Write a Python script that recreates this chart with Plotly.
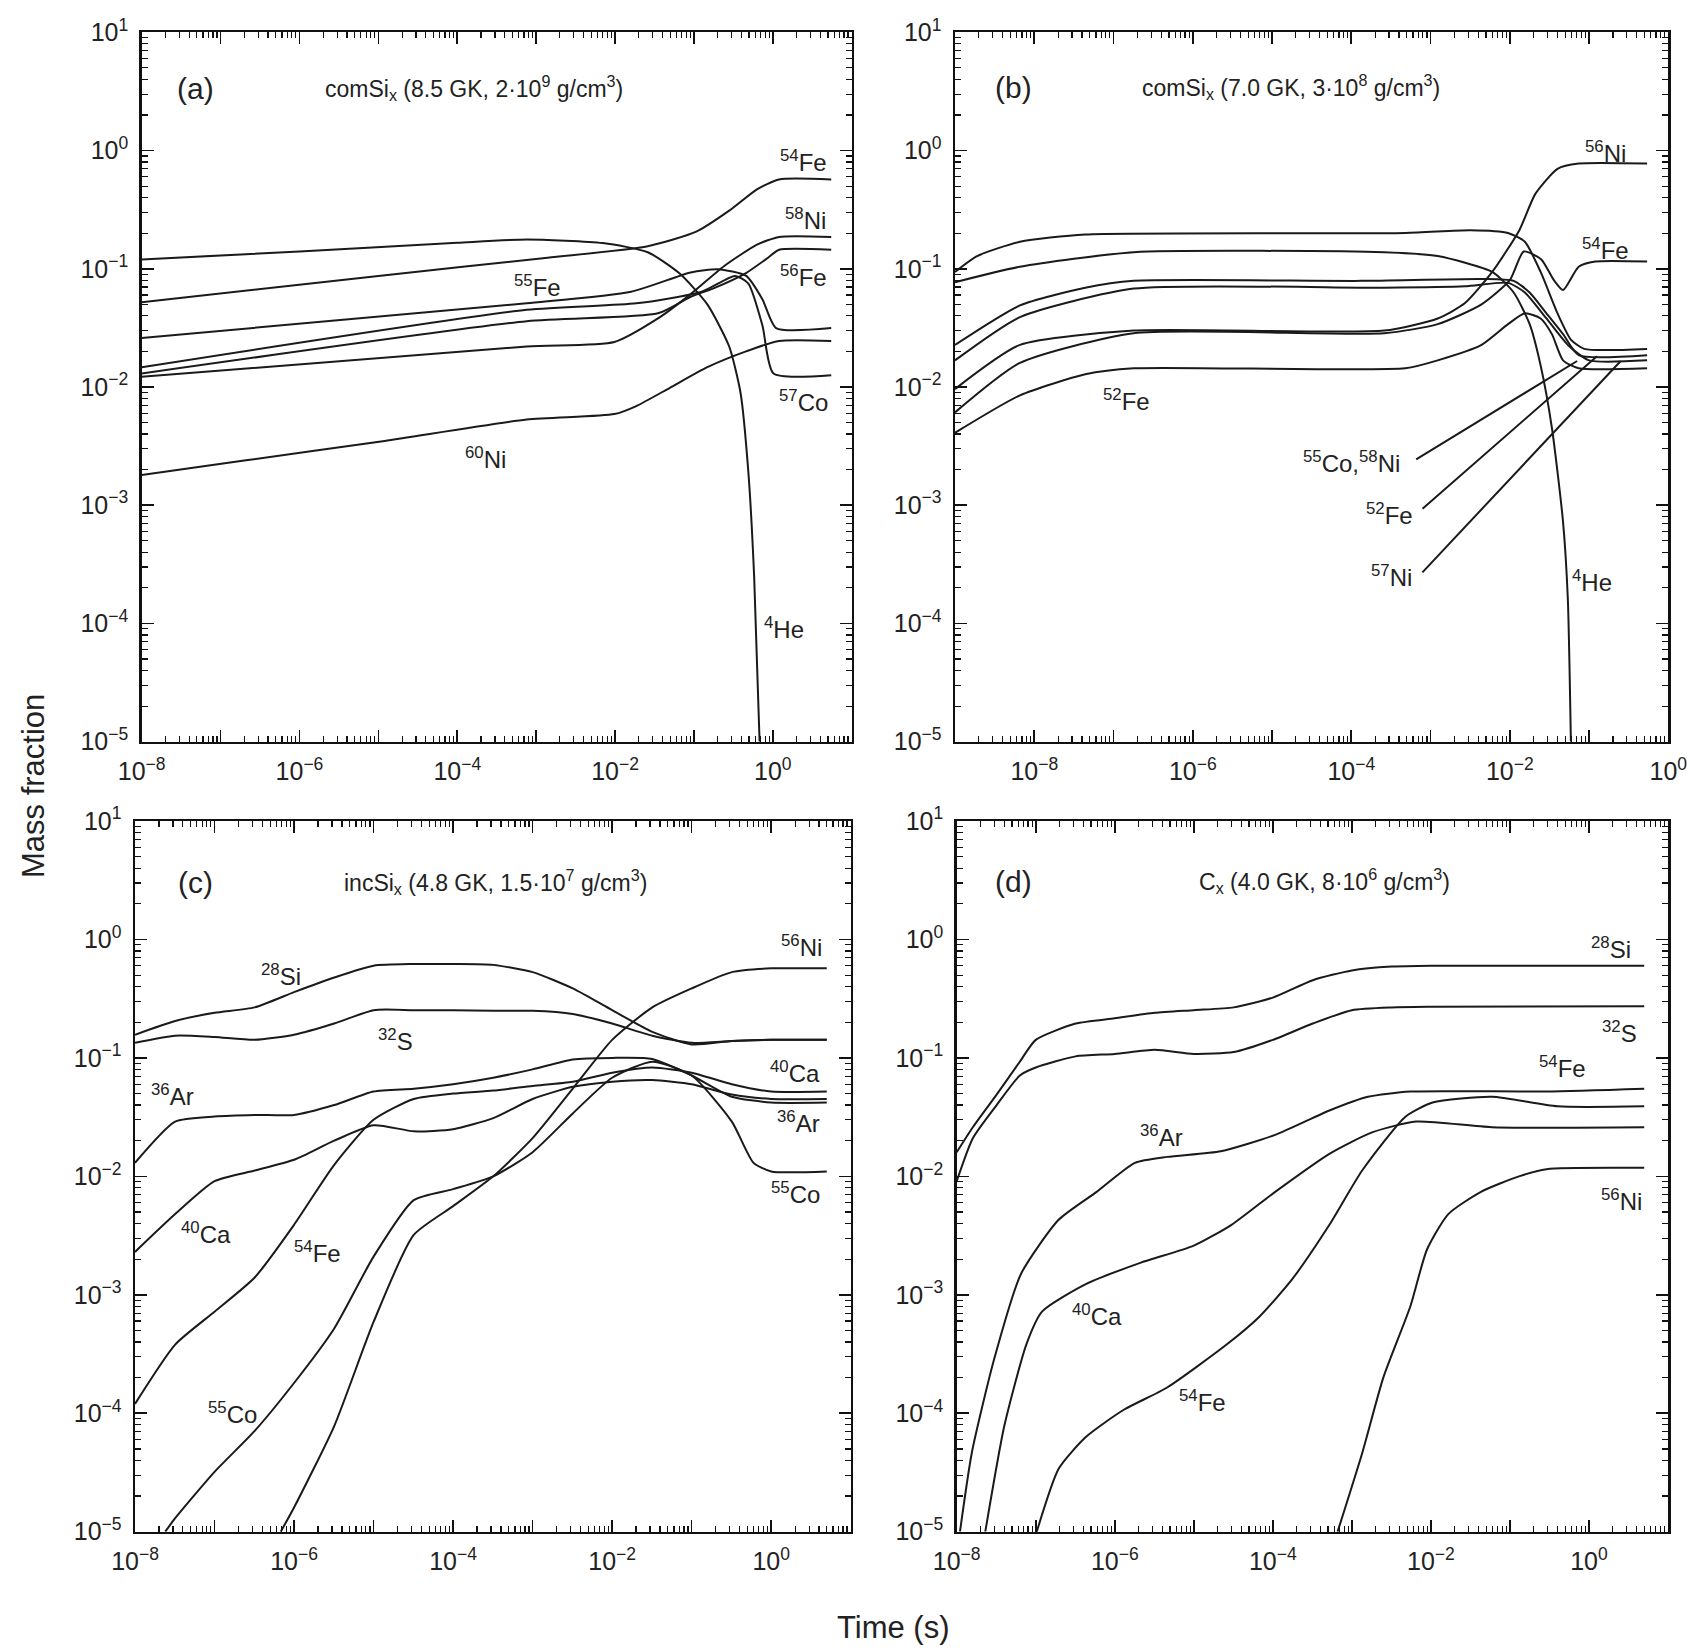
import math
import plotly.graph_objects as go

FONT = "Liberation Sans, Arial, Helvetica, sans-serif"
W, H = 1690, 1650

# ---------------- Panel (a): comSi_x (8.5 GK) ----------------
a_he_t = [1e-8, 1e-6, 1e-4, 7.6e-4, 7e-3, 2.6e-2, 6.6e-2, 0.148, 0.28, 0.39, 0.49, 0.58, 0.68]
a_he_y = [0.12, 0.14, 0.166, 0.177, 0.165, 0.138, 0.091, 0.050, 0.022, 0.0089, 0.0019, 2.5e-4, 1e-5]
a_fe54_t = [1e-8, 1e-5, 1.4e-3, 2.6e-2, 0.107, 0.28, 0.63, 1.2, 5.5]
a_fe54_y = [0.052, 0.087, 0.124, 0.155, 0.206, 0.31, 0.47, 0.57, 0.57]
a_fe55_t = [1e-8, 7.6e-4, 1.6e-2, 9.1e-2, 0.2, 0.46, 0.74, 1.1, 5.5]
a_fe55_y = [0.026, 0.051, 0.064, 0.093, 0.099, 0.087, 0.055, 0.0315, 0.0315]
a_co57_t = [1e-8, 7.6e-4, 1.86e-2, 0.126, 0.33, 0.49, 0.74, 1.02, 5.5]
a_co57_y = [0.0147, 0.045, 0.051, 0.064, 0.087, 0.075, 0.033, 0.013, 0.0126]
a_fe56_t = [1e-8, 7.6e-4, 3.5e-2, 9.1e-2, 0.174, 0.457, 0.87, 1.2, 5.5]
a_fe56_y = [0.013, 0.036, 0.042, 0.058, 0.068, 0.092, 0.124, 0.145, 0.145]
a_ni58_t = [1e-8, 7.6e-4, 9.8e-3, 3.5e-2, 9.1e-2, 0.24, 0.63, 1.2, 5.5]
a_ni58_y = [0.0122, 0.022, 0.024, 0.038, 0.061, 0.105, 0.16, 0.186, 0.186]
a_ni60_t = [1e-8, 2.1e-7, 1.2e-5, 7.6e-4, 9.8e-3, 1.86e-2, 4.9e-2, 0.148, 0.457, 1.2, 5.5]
a_ni60_y = [0.0018, 0.0024, 0.0035, 0.0053, 0.0059, 0.0069, 0.0098, 0.0147, 0.020, 0.0245, 0.0245]

# ---------------- Panel (b): comSi_x (7.0 GK) ----------------
b_co55_t = [1e-9, 1.9e-9, 6.6e-9, 4.4e-8, 4.8e-4, 3.2e-3, 9.5e-3, 1.55e-2, 2.45e-2, 4e-2, 5.9e-2, 8.7e-2, 0.54]
b_co55_y = [0.094, 0.128, 0.169, 0.195, 0.201, 0.212, 0.201, 0.169, 0.094, 0.042, 0.0252, 0.021, 0.021]
b_he_t = [1e-9, 6.6e-9, 1.8e-7, 2.6e-4, 1.23e-3, 6e-3, 1.12e-2, 1.78e-2, 2.45e-2, 3.4e-2, 4.7e-2, 5.4e-2, 5.9e-2]
b_he_y = [0.077, 0.104, 0.138, 0.138, 0.128, 0.094, 0.063, 0.034, 0.0152, 0.0045, 7.2e-4, 1.6e-4, 1e-5]
b_ni58_t = [1e-9, 6.6e-9, 4.4e-8, 1.8e-7, 1.35e-4, 4.4e-3, 1.12e-2, 1.78e-2, 2.9e-2, 4.7e-2, 7.4e-2, 0.54]
b_ni58_y = [0.0227, 0.049, 0.069, 0.079, 0.079, 0.082, 0.079, 0.063, 0.042, 0.028, 0.0186, 0.0186]
b_ni57_t = [1e-9, 6.6e-9, 1.8e-7, 2.6e-4, 2.7e-3, 9.5e-3, 1.55e-2, 2.9e-2, 5.4e-2, 0.1, 0.54]
b_ni57_y = [0.0168, 0.039, 0.068, 0.069, 0.071, 0.076, 0.063, 0.038, 0.0227, 0.0168, 0.0168]
b_ni56_t = [1e-9, 6.6e-9, 1.8e-7, 2.6e-4, 1.23e-3, 2.7e-3, 6e-3, 1.32e-2, 2.1e-2, 4e-2, 7.4e-2, 0.54]
b_ni56_y = [0.0096, 0.0227, 0.030, 0.030, 0.038, 0.051, 0.094, 0.212, 0.43, 0.70, 0.776, 0.776]
b_fe54_t = [1e-9, 6.6e-9, 1.8e-7, 2.6e-4, 1.23e-3, 4.4e-3, 1e-2, 1.5e-2, 2.5e-2, 3.6e-2, 4.7e-2, 7.4e-2, 0.12, 0.54]
b_fe54_y = [0.0061, 0.016, 0.0285, 0.0285, 0.034, 0.05, 0.08, 0.14, 0.12, 0.08, 0.066, 0.104, 0.115, 0.115]
b_fe52_t = [1e-9, 6.6e-9, 4.4e-8, 1.8e-7, 4.8e-4, 1.23e-3, 4.4e-3, 9.5e-3, 1.55e-2, 2.45e-2, 3.4e-2, 4.7e-2, 7.4e-2, 0.54]
b_fe52_y = [0.0041, 0.0085, 0.0128, 0.0144, 0.0144, 0.0168, 0.0227, 0.034, 0.042, 0.038, 0.028, 0.0168, 0.0144, 0.0144]

# ---------------- Panel (c): incSi_x (4.8 GK) ----------------
c_t = [1e-8, 3.2e-8, 1e-7, 3.2e-7, 1e-6, 3.2e-6, 1e-5, 3.2e-5, 1e-4, 3.2e-4,
       1e-3, 3.2e-3, 1e-2, 3.2e-2, 0.1, 0.32, 1, 5]
c_si28_y = [0.157, 0.205, 0.24, 0.267, 0.359, 0.477, 0.60, 0.62, 0.62, 0.61,
            0.53, 0.386, 0.253, 0.166, 0.130, 0.139, 0.142, 0.142]
c_s32_y = [0.134, 0.154, 0.15, 0.142, 0.157, 0.195, 0.253, 0.253, 0.253, 0.25,
           0.25, 0.235, 0.195, 0.154, 0.134, 0.139, 0.142, 0.142]
c_ar36_y = [0.013, 0.029, 0.032, 0.033, 0.033, 0.040, 0.052, 0.055, 0.060, 0.068,
            0.080, 0.097, 0.10, 0.098, 0.071, 0.047, 0.042, 0.042]
c_ca40_y = [0.0023, 0.0048, 0.0091, 0.0112, 0.0138, 0.020, 0.027, 0.024, 0.025, 0.031,
            0.045, 0.057, 0.063, 0.065, 0.060, 0.049, 0.045, 0.045]
c_fe54_y = [1.2e-4, 3.8e-4, 7.2e-4, 1.4e-3, 3.9e-3, 0.0125, 0.030, 0.045, 0.050, 0.053,
            0.058, 0.063, 0.075, 0.083, 0.075, 0.060, 0.052, 0.052]
c_co55_t = [2.4e-8, 3.2e-8, 1e-7, 3.2e-7, 1e-6, 3.2e-6, 1e-5, 3.2e-5, 1e-4, 3.2e-4,
            1e-3, 3.2e-3, 1e-2, 3.2e-2, 0.1, 0.32, 0.6, 1, 5]
c_co55_y = [1e-5, 1.3e-5, 3.2e-5, 7.1e-5, 1.8e-4, 5.2e-4, 2.1e-3, 6.3e-3, 7.8e-3, 0.010,
            0.016, 0.034, 0.068, 0.093, 0.071, 0.029, 0.013, 0.011, 0.011]
c_ni56_t = [6.8e-7, 1e-6, 3.2e-6, 1e-5, 3.2e-5, 1e-4, 3.2e-4, 1e-3, 3.2e-3, 1e-2, 3.2e-2, 0.1, 0.32, 1, 5]
c_ni56_y = [1e-5, 1.6e-5, 7.8e-5, 5.9e-4, 3.2e-3, 5.6e-3, 0.010, 0.021, 0.055, 0.142, 0.267, 0.386, 0.53, 0.57, 0.57]

# ---------------- Panel (d): C_x (4.0 GK) ----------------
d_t = [1e-8, 1.6e-8, 3.2e-8, 6.3e-8, 1e-7, 3.2e-7, 1e-6, 3.2e-6, 1e-5, 3.2e-5,
       1e-4, 3.2e-4, 1e-3, 3.2e-3, 1e-2, 5]
d_si28_y = [0.016, 0.026, 0.049, 0.093, 0.142, 0.195, 0.216, 0.24, 0.253, 0.267,
            0.323, 0.453, 0.548, 0.59, 0.60, 0.60]
d_s32_y = [0.0091, 0.021, 0.040, 0.071, 0.083, 0.103, 0.108, 0.117, 0.108, 0.112,
           0.142, 0.195, 0.253, 0.267, 0.27, 0.273]
d_ar36_t = [1.1e-8, 1.55e-8, 2.95e-8, 6.5e-8, 1.95e-7, 5.9e-7, 1.8e-6, 4.6e-6, 2.2e-5,
            1.07e-4, 5.2e-4, 1.6e-3, 5.5e-3, 0.29, 5]
d_ar36_y = [1e-5, 4.6e-5, 2.8e-4, 1.5e-3, 4.3e-3, 7.4e-3, 0.013, 0.0146, 0.0163,
            0.0224, 0.036, 0.047, 0.052, 0.052, 0.055]
d_ca40_t = [2.3e-8, 4e-8, 7.6e-8, 1.2e-7, 4.3e-7, 2.1e-6, 1e-5, 3e-5, 1.07e-4, 5.2e-4,
            1.8e-3, 6.5e-3, 0.059, 5]
d_ca40_y = [1e-5, 7.8e-5, 3.8e-4, 7.2e-4, 1.23e-3, 1.86e-3, 2.6e-3, 3.9e-3, 7.4e-3, 0.0155,
            0.0235, 0.029, 0.026, 0.026]
d_fe54_t = [1.03e-7, 1.95e-7, 4.3e-7, 1.3e-6, 4.6e-6, 2.6e-5, 6.7e-5, 1.75e-4, 5.2e-4,
            1.35e-3, 4.8e-3, 1.05e-2, 0.059, 0.40, 5]
d_fe54_y = [1e-5, 3.4e-5, 6.3e-5, 1.07e-4, 1.65e-4, 3.8e-4, 6.5e-4, 1.35e-3, 3.9e-3,
            0.0112, 0.032, 0.042, 0.047, 0.039, 0.039]
d_ni56_t = [6.6e-4, 1.35e-3, 2.5e-3, 5.5e-3, 8.9e-3, 1.66e-2, 4.3e-2, 0.13, 0.29, 5]
d_ni56_y = [1e-5, 4.6e-5, 2e-4, 8e-4, 2.4e-3, 4.8e-3, 7.4e-3, 0.010, 0.0115, 0.0118]

# tick labels
y_exponents = [1, 0, -1, -2, -3, -4, -5]

panels = [
    dict(key="a", xa="x", ya="y", xdom=(141.7, 851.7), ydom=(32.3, 741.7), xr=(-8, 1),
         series=[(a_he_t, a_he_y), (a_fe54_t, a_fe54_y), (a_fe55_t, a_fe55_y), (a_co57_t, a_co57_y),
                 (a_fe56_t, a_fe56_y), (a_ni58_t, a_ni58_y), (a_ni60_t, a_ni60_y)]),
    dict(key="b", xa="x2", ya="y2", xdom=(955, 1668.3), ydom=(32.3, 741.7), xr=(-9, 0),
         series=[(b_co55_t, b_co55_y), (b_he_t, b_he_y), (b_ni58_t, b_ni58_y), (b_ni57_t, b_ni57_y),
                 (b_ni56_t, b_ni56_y), (b_fe54_t, b_fe54_y), (b_fe52_t, b_fe52_y)]),
    dict(key="c", xa="x3", ya="y3", xdom=(135, 850.7), ydom=(821, 1531.7), xr=(-8, 1),
         series=[(c_t, c_si28_y), (c_t, c_s32_y), (c_t, c_ar36_y), (c_t, c_ca40_y), (c_t, c_fe54_y),
                 (c_co55_t, c_co55_y), (c_ni56_t, c_ni56_y)]),
    dict(key="d", xa="x4", ya="y4", xdom=(956.7, 1668), ydom=(821, 1531.7), xr=(-8, 1),
         series=[(d_t, d_si28_y), (d_t, d_s32_y), (d_ar36_t, d_ar36_y), (d_ca40_t, d_ca40_y),
                 (d_fe54_t, d_fe54_y), (d_ni56_t, d_ni56_y)]),
]


def exp_label(k):
    return "10<sup>%s%d</sup>" % ("\u2212" if k < 0 else "", abs(k))


fig = go.Figure()
layout = dict(width=W, height=H, margin=dict(l=0, r=0, t=0, b=0, pad=0, autoexpand=False),
              paper_bgcolor="white", plot_bgcolor="white", showlegend=False,
              font=dict(family=FONT, color="#222"))

for p in panels:
    for t, y in p["series"]:
        fig.add_trace(go.Scatter(x=t, y=y, mode="lines", xaxis=p["xa"], yaxis=p["ya"],
                                 line=dict(color="#1a1a1a", width=2, shape="spline", smoothing=0.6),
                                 hoverinfo="skip"))
    lo, hi = p["xr"]
    xk = list(range(lo, hi + 1))
    xname = "xaxis" if p["xa"] == "x" else "xaxis" + p["xa"][1:]
    yname = "yaxis" if p["ya"] == "y" else "yaxis" + p["ya"][1:]
    common = dict(type="log", showgrid=False, zeroline=False, showline=True, linecolor="#111",
                  linewidth=2.5, mirror="allticks", ticks="inside", ticklen=12, tickwidth=1.6,
                  tickcolor="#111", automargin=False, ticklabelstandoff=6,
                  tickfont=dict(family=FONT, size=25, color="#222"))
    layout[xname] = dict(common, range=[lo, hi], domain=[p["xdom"][0] / W, p["xdom"][1] / W],
                         anchor=p["ya"], tickmode="array",
                         tickvals=[10.0 ** k for k in xk],
                         ticktext=[exp_label(k) if k % 2 == 0 else "" for k in xk],
                         minor=dict(tickmode="array",
                                    tickvals=[m * 10.0 ** k for k in range(lo, hi) for m in range(2, 10)],
                                    ticks="inside", ticklen=6, tickwidth=1.2, tickcolor="#111",
                                    showgrid=False))
    layout[yname] = dict(common, range=[-5, 1],
                         domain=[1 - p["ydom"][1] / H, 1 - p["ydom"][0] / H],
                         anchor=p["xa"], tickmode="array",
                         tickvals=[10.0 ** k for k in y_exponents],
                         ticktext=[exp_label(k) for k in y_exponents],
                         minor=dict(tickmode="array",
                                    tickvals=[m * 10.0 ** k for k in range(-5, 1) for m in range(2, 10)],
                                    ticks="inside", ticklen=6, tickwidth=1.2, tickcolor="#111",
                                    showgrid=False))

annotations = []


def iso(panel, text, t, y, size=24, xanchor="center"):
    p = [q for q in panels if q["key"] == panel][0]
    annotations.append(dict(x=math.log10(t), y=math.log10(y), xref=p["xa"], yref=p["ya"],
                            text=text, showarrow=False, xanchor=xanchor, yanchor="middle",
                            font=dict(family=FONT, size=size, color="#222")))


def paper_text(text, px, py, size, xanchor="center", angle=0):
    annotations.append(dict(x=px / W, y=1 - py / H, xref="paper", yref="paper", text=text,
                            showarrow=False, xanchor=xanchor, yanchor="middle", textangle=angle,
                            font=dict(family=FONT, size=size, color="#222")))


# panel tags and titles
paper_text("(a)", 195, 88, 30)
paper_text("comSi<sub>x</sub> (8.5 GK, 2\u00b710<sup>9</sup> g/cm<sup>3</sup>)", 474, 88, 23)
paper_text("(b)", 1013, 87, 30)
paper_text("comSi<sub>x</sub> (7.0 GK, 3\u00b710<sup>8</sup> g/cm<sup>3</sup>)", 1291, 87, 23)
paper_text("(c)", 195, 882, 30)
paper_text("incSi<sub>x</sub> (4.8 GK, 1.5\u00b710<sup>7</sup> g/cm<sup>3</sup>)", 495, 882, 23)
paper_text("(d)", 1013, 881, 30)
paper_text("C<sub>x</sub> (4.0 GK, 8\u00b710<sup>6</sup> g/cm<sup>3</sup>)", 1324, 881, 23)

# axis titles
paper_text("Mass fraction", 34, 786, 31, angle=-90)
paper_text("Time (s)", 893, 1627, 31)

# isotope labels (a)
iso("a", "<sup>54</sup>Fe", 2.45, 0.81)
iso("a", "<sup>58</sup>Ni", 2.6, 0.266)
iso("a", "<sup>56</sup>Fe", 2.45, 0.087)
iso("a", "<sup>57</sup>Co", 2.45, 0.0076)
iso("a", "<sup>55</sup>Fe", 1.05e-3, 0.071)
iso("a", "<sup>60</sup>Ni", 2.3e-4, 0.0025)
iso("a", "<sup>4</sup>He", 1.4, 9.1e-5)
# (b)
iso("b", "<sup>56</sup>Ni", 0.162, 0.97)
iso("b", "<sup>54</sup>Fe", 0.162, 0.148)
iso("b", "<sup>52</sup>Fe", 1.45e-7, 0.0078)
iso("b", "<sup>55</sup>Co,<sup>58</sup>Ni", 1.0e-4, 2.3e-3)
iso("b", "<sup>52</sup>Fe", 3.0e-4, 8.5e-4)
iso("b", "<sup>57</sup>Ni", 3.2e-4, 2.5e-4)
iso("b", "<sup>4</sup>He", 0.11, 2.3e-4)
# (c)
iso("c", "<sup>28</sup>Si", 6.8e-7, 0.50)
iso("c", "<sup>32</sup>S", 1.9e-5, 0.141)
iso("c", "<sup>36</sup>Ar", 3.0e-8, 0.049)
iso("c", "<sup>56</sup>Ni", 2.4, 0.88)
iso("c", "<sup>40</sup>Ca", 2.0, 0.076)
iso("c", "<sup>36</sup>Ar", 2.2, 0.029)
iso("c", "<sup>55</sup>Co", 2.0, 0.0072)
iso("c", "<sup>40</sup>Ca", 7.9e-8, 3.3e-3)
iso("c", "<sup>54</sup>Fe", 2.0e-6, 2.3e-3)
iso("c", "<sup>55</sup>Co", 1.7e-7, 1.0e-4)
# (d)
iso("d", "<sup>28</sup>Si", 1.9, 0.85)
iso("d", "<sup>32</sup>S", 2.4, 0.166)
iso("d", "<sup>54</sup>Fe", 0.46, 0.083)
iso("d", "<sup>56</sup>Ni", 2.6, 0.0063)
iso("d", "<sup>36</sup>Ar", 3.9e-6, 0.022)
iso("d", "<sup>40</sup>Ca", 5.9e-7, 6.8e-4)
iso("d", "<sup>54</sup>Fe", 1.3e-5, 1.26e-4)

# leader lines in (b) from the labels to the curve ends (log-axis coordinates)
for (x0, y0, x1, y1) in [(-3.20, -2.62, -1.15, -1.78), (-3.12, -3.04, -0.90, -1.74),
                         (-3.12, -3.58, -0.60, -1.78)]:
    annotations.append(dict(x=x1, y=y1, ax=x0, ay=y0, xref="x2", yref="y2", axref="x2", ayref="y2",
                            text="", showarrow=True, arrowhead=0, arrowwidth=2,
                            arrowcolor="#1a1a1a", standoff=0, startstandoff=0))

layout["annotations"] = annotations
fig.update_layout(**layout)
fig.write_html("out.html", config={"displayModeBar": False, "staticPlot": True},
               post_script="document.body.style.margin='0';document.body.style.padding='0';")
